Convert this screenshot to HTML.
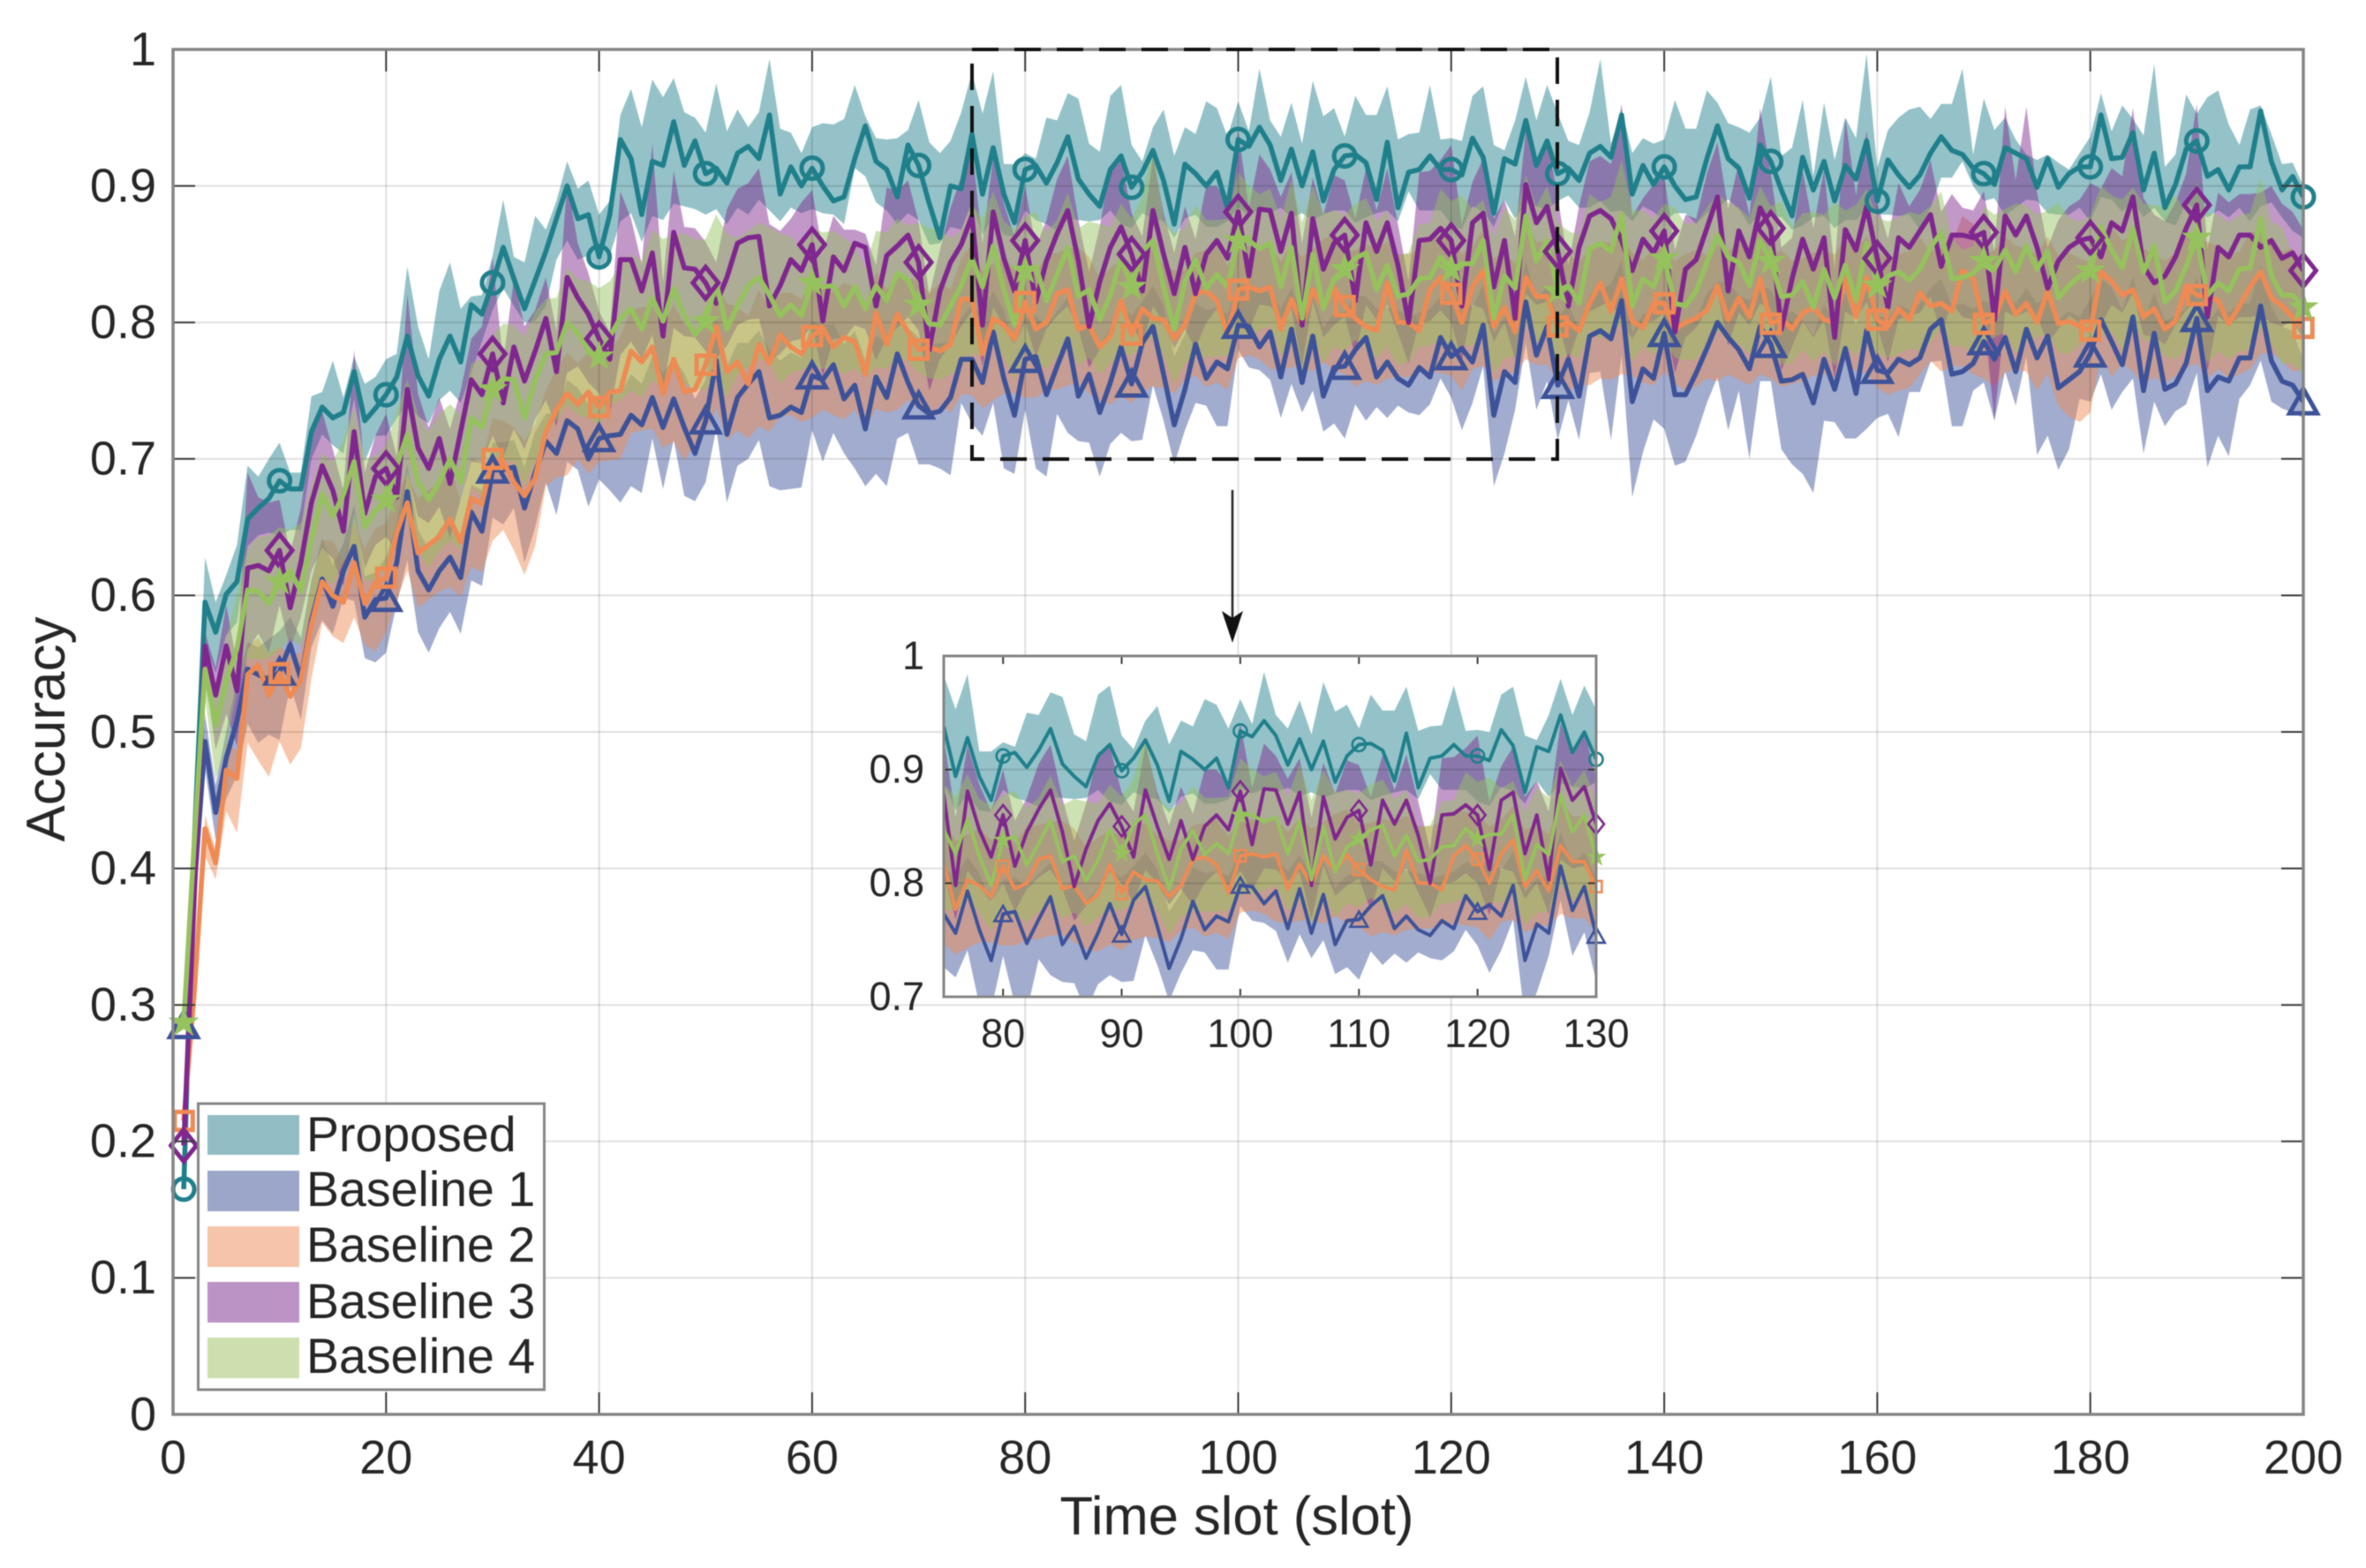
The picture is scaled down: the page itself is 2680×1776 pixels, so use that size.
<!DOCTYPE html>
<html lang="en">
<head>
<meta charset="utf-8">
<title>Accuracy over time slots</title>
<style>
html,body{margin:0;padding:0;background:#fff;}
svg{display:block;filter:blur(.6px);}
text{font-family:"Liberation Sans",Arial,sans-serif;fill:#262626;}
</style>
</head>
<body>
<svg id="chart" xmlns="http://www.w3.org/2000/svg" width="2680" height="1776" viewBox="0 0 2680 1776">
  <rect x="0" y="0" width="2680" height="1776" fill="#fff"/>
  <defs>
    <clipPath id="main-clip"><rect x="196" y="56" width="2413" height="1546"/></clipPath>
    <clipPath id="inset-clip"><rect x="1069" y="743" width="739" height="386"/></clipPath>
  </defs>
  <g id="main-panel"></g>
  <rect x="1101" y="56" width="663" height="464" fill="none" stroke="#111" stroke-width="4" stroke-dasharray="30 18"/>
  <g>
    <line x1="1396" y1="555" x2="1396" y2="705" stroke="#222" stroke-width="2.5"/>
    <polygon points="1396,728 1384,692 1396,700 1408,692" fill="#111"/>
  </g>
  <rect x="1069" y="743" width="739" height="386" fill="#fff"/>
  <g id="inset-panel"></g>
  <text x="1401" y="1738" font-size="61.5" text-anchor="middle">Time slot (slot)</text>
  <text transform="translate(73,826) rotate(-90)" font-size="62" text-anchor="middle">Accuracy</text>
  <g>
    <rect x="224.500" y="1250" width="392" height="324" fill="#fff" stroke="#858585" stroke-width="3"/>
    <rect x="235" y="1263" width="104" height="45" fill="#93bdc4"/>
    <rect x="235" y="1326" width="104" height="46" fill="#9ca6c9"/>
    <rect x="235" y="1389" width="104" height="46" fill="#f5c4ab"/>
    <rect x="235" y="1452" width="104" height="46" fill="#bb93c4"/>
    <rect x="235" y="1515" width="104" height="46" fill="#cddfaf"/>
    <text x="347" y="1304" font-size="55.5">Proposed</text>
    <text x="347" y="1366" font-size="55.5">Baseline 1</text>
    <text x="347" y="1429" font-size="55.5">Baseline 2</text>
    <text x="347" y="1493" font-size="55.5">Baseline 3</text>
    <text x="347" y="1555" font-size="55.5">Baseline 4</text>
  </g>
</svg>
<script>
// ---- chart data (slot = index + 1) ----
const proposedMean=[
.165,.42,.595,.573,.601,.61,.656,.664,.671,.684,
.678,.678,.72,.738,.73,.734,.764,.728,.737,.747,
.76,.79,.761,.746,.773,.79,.771,.813,.806,.829,
.855,.832,.81,.831,.852,.876,.9,.876,.879,.848,
.879,.934,.92,.879,.918,.915,.947,.915,.933,.909,
.913,.902,.924,.929,.92,.952,.894,.914,.9,.913,
.9,.889,.892,.92,.944,.918,.912,.892,.93,.915,
.887,.862,.9,.898,.938,.894,.928,.894,.873,.912,
.915,.902,.917,.936,.905,.894,.885,.912,.922,.899,
.91,.926,.904,.872,.916,.909,.9,.91,.884,.934,
.929,.943,.93,.904,.927,.9,.925,.889,.912,.922,
.923,.917,.89,.932,.884,.91,.912,.922,.912,.912,
.908,.935,.921,.88,.92,.916,.948,.915,.933,.909,
.913,.904,.924,.929,.921,.952,.894,.915,.901,.914,
.9,.89,.892,.92,.944,.92,.913,.891,.93,.918,
.897,.878,.921,.897,.918,.889,.915,.905,.933,.889,
.919,.908,.899,.908,.924,.936,.926,.923,.913,.909,
.901,.928,.924,.92,.899,.92,.899,.909,.914,.914,
.952,.92,.921,.939,.897,.924,.884,.901,.927,.933,
.907,.912,.897,.914,.914,.955,.918,.897,.907,.892];
const proposedUp=[
0,.01,.033,.022,.014,.027,.039,.023,.029,.028,
.012,.012,.026,.011,.042,.011,.011,.027,.023,.026,
.017,.051,.036,.027,.05,.054,.039,.006,.014,.02,
.035,.016,.034,.047,.016,.013,.018,.022,.025,.031,
.01,.018,.051,.064,.06,.05,.032,.039,.017,.03,
.062,.038,.032,.014,.034,.041,.048,.025,.024,.03,
.046,.056,.057,.054,.007,.017,.022,.043,.011,.048,
.045,.062,.033,.056,.045,.059,.056,.022,.043,.012,
.005,.048,.031,.032,.059,.037,.04,.054,.052,.031,
.008,.017,.052,.05,.027,.029,.062,.047,.052,.028,
.011,.043,.018,.032,.034,.031,.052,.062,.045,.014,
.043,.035,.062,.041,.05,.028,.027,.052,.022,.023,
.025,.031,.052,.05,.006,.032,.032,.033,.041,.044,
.02,.026,.03,.064,.01,.004,.03,.02,.03,.02,
.063,.052,.05,.05,.017,.026,.03,.048,.02,.062,
.025,.05,.042,.01,.043,.03,.035,.03,.064,.024,
.022,.042,.057,.05,.025,.024,.034,.063,.01,.055,
.04,.022,.01,.003,.02,.003,.018,.003,.01,.022,
.016,.02,.038,.01,.04,.065,.03,.022,.04,.02,
.058,.058,.048,.016,.042,.004,.02,.019,.01,.008];
const proposedDown=[
0,.01,.03,.03,.03,.03,.02,.02,.025,.04,
.03,.03,.02,.02,.02,.03,.02,.03,.02,.03,
.03,.05,.03,.02,.03,.04,.03,.05,.02,.02,
.03,.02,.01,.03,.04,.03,.04,.03,.03,.01,
.03,.06,.04,.02,.04,.04,.06,.03,.05,.03,
.03,.03,.04,.05,.03,.07,.02,.03,.02,.03,
.02,.01,.02,.007,.037,.03,.03,.02,.05,.04,
.03,.004,.03,.03,.05,.03,.05,.03,.01,.03,
.04,.03,.05,.06,.03,.02,.01,.03,.05,.03,
.03,.05,.03,.01,.04,.03,.03,.04,.01,.05,
.05,.06,.05,.02,.05,.02,.05,.01,.03,.04,
.05,.04,.01,.05,.01,.014,.03,.04,.03,.04,
.04,.05,.04,.01,.03,.04,.06,.03,.05,.02,
.02,.02,.04,.04,.04,.07,.02,.03,.02,.04,
.02,.01,.02,.04,.06,.03,.03,.02,.05,.04,
.02,.01,.05,.02,.04,.02,.04,.03,.05,.01,
.04,.03,.02,.04,.04,.03,.02,.005,.013,.02,
.01,.05,.04,.03,.01,.04,.02,.03,.03,.04,
.06,.03,.04,.05,.02,.04,.01,.03,.04,.05,
.03,.03,.02,.03,.04,.07,.03,.02,.04,.03];

const baseline1Mean=[
.285,.386,.493,.441,.481,.508,.546,.542,.538,.544,
.564,.539,.582,.612,.592,.618,.636,.584,.597,.598,
.624,.676,.618,.604,.618,.628,.613,.661,.647,.692,
.692,.694,.664,.69,.713,.704,.728,.722,.7,.715,
.717,.718,.732,.725,.745,.723,.744,.723,.704,.728,
.772,.718,.745,.755,.764,.73,.732,.738,.734,.761,
.758,.769,.744,.754,.722,.76,.745,.777,.756,.739,
.733,.735,.745,.773,.773,.756,.793,.759,.732,.773,
.775,.747,.768,.788,.746,.762,.734,.756,.782,.755,
.785,.797,.762,.725,.751,.784,.759,.771,.766,.798,
.797,.782,.793,.76,.795,.756,.79,.746,.767,.768,
.78,.789,.76,.771,.759,.754,.767,.76,.789,.775,
.781,.771,.798,.732,.764,.756,.815,.776,.797,.754,
.773,.746,.79,.794,.788,.816,.742,.766,.759,.792,
.747,.747,.763,.781,.8,.789,.78,.766,.797,.784,
.757,.758,.762,.741,.773,.751,.781,.748,.794,.765,
.763,.773,.769,.774,.795,.802,.762,.764,.77,.786,
.773,.789,.764,.795,.774,.79,.752,.758,.764,.777,
.802,.786,.769,.804,.75,.792,.751,.755,.77,.803,
.75,.76,.757,.774,.774,.812,.772,.757,.754,.742];
const baseline1Up=[
0,.01,.02,.02,.02,.03,.02,.02,.03,.03,
.02,.03,.03,.03,.03,.02,.03,.03,.02,.03,
.03,.02,.03,.03,.03,.03,.03,.02,.03,.02,
.02,.02,.03,.03,.02,.03,.03,.03,.04,.03,
.03,.03,.03,.03,.03,.04,.03,.04,.04,.03,
.03,.05,.04,.03,.03,.05,.04,.04,.04,.04,
.04,.03,.04,.04,.05,.03,.04,.03,.04,.05,
.05,.05,.04,.03,.04,.05,.03,.05,.05,.03,
.03,.05,.04,.03,.05,.04,.05,.04,.03,.05,
.03,.03,.05,.05,.04,.03,.05,.04,.04,.03,
.03,.04,.03,.05,.03,.05,.03,.05,.04,.04,
.04,.03,.05,.04,.05,.05,.04,.05,.03,.04,
.04,.04,.03,.06,.04,.05,.03,.04,.03,.05,
.04,.05,.03,.03,.04,.03,.05,.04,.05,.03,
.05,.05,.04,.04,.03,.04,.04,.05,.03,.04,
.05,.05,.04,.05,.04,.05,.04,.05,.03,.04,
.04,.04,.04,.04,.03,.03,.05,.05,.04,.03,
.04,.03,.05,.03,.04,.03,.05,.05,.04,.04,
.03,.04,.04,.03,.05,.03,.05,.05,.04,.03,
.05,.05,.05,.04,.04,.03,.04,.04,.04,.03];
const baseline1Down=[
0,.01,.02,.02,.03,.04,.04,.05,.04,.05,
.03,.03,.02,.03,.02,.02,.04,.03,.046,.04,
.03,.05,.045,.046,.042,.04,.041,.05,.04,.035,
.04,.03,.04,.04,.03,.045,.03,.03,.035,.03,
.04,.05,.052,.05,.03,.045,.03,.05,.035,.045,
.05,.05,.05,.055,.05,.05,.055,.06,.055,.04,
.06,.05,.04,.061,.042,.071,.065,.062,.037,.043,
.037,.042,.057,.032,.047,.039,.052,.066,.043,.037,
.082,.06,.035,.069,.033,.05,.047,.045,.063,.042,
.071,.043,.034,.029,.03,.043,.02,.047,.042,.018,
.03,.017,.035,.03,.04,.022,.04,.026,.041,.053,
.04,.061,.022,.041,.02,.02,.035,.02,.03,.03,
.06,.03,.03,.052,.06,.02,.03,.04,.04,.04,
.03,.032,.027,.03,.074,.04,.07,.061,.03,.07,
.052,.049,.046,.04,.04,.068,.03,.066,.04,.027,
.05,.062,.073,.066,.045,.024,.066,.033,.072,.035,
.03,.057,.02,.025,.024,.03,.038,.04,.02,.03,
.045,.025,.025,.02,.071,.073,.06,.051,.02,.035,
.04,.05,.02,.045,.046,.05,.027,.02,.03,.04,
.056,.043,.055,.03,.02,.04,.03,.02,.02,.012];

const baseline2Mean=[
.215,.31,.429,.404,.472,.466,.542,.549,.527,.543,
.526,.538,.579,.61,.6,.595,.624,.594,.609,.613,
.646,.668,.631,.637,.643,.656,.639,.671,.667,.7,
.698,.683,.673,.686,.72,.736,.748,.74,.749,.738,
.749,.75,.779,.771,.782,.748,.773,.749,.751,.769,
.797,.764,.771,.755,.784,.77,.791,.782,.777,.79,
.796,.782,.789,.786,.762,.807,.784,.806,.793,.78,
.782,.779,.784,.817,.817,.777,.803,.798,.788,.815,
.795,.8,.821,.824,.795,.798,.782,.79,.816,.791,
.81,.803,.802,.788,.798,.821,.823,.816,.791,.824,
.826,.823,.826,.795,.817,.798,.824,.811,.825,.812,
.803,.797,.794,.829,.8,.8,.794,.824,.833,.821,
.8,.826,.838,.797,.811,.793,.833,.819,.819,.797,
.8,.794,.814,.829,.808,.832,.801,.796,.814,.814,
.795,.8,.803,.809,.827,.802,.818,.804,.832,.799,
.803,.795,.807,.811,.802,.8,.832,.804,.833,.802,
.797,.81,.802,.822,.812,.814,.808,.838,.832,.799,
.803,.823,.806,.814,.8,.823,.799,.801,.797,.794,
.837,.83,.82,.824,.804,.81,.795,.801,.827,.82,
.819,.816,.799,.812,.826,.837,.818,.812,.804,.796];
const baseline2Up=[
0,.01,.01,.01,.02,.02,.02,.02,.03,.02,
.03,.02,.03,.03,.04,.03,.03,.04,.04,.04,
.03,.02,.04,.04,.04,.04,.03,.03,.03,.03,
.03,.04,.04,.04,.03,.03,.03,.03,.03,.04,
.03,.04,.03,.04,.03,.05,.04,.05,.04,.04,
.03,.05,.04,.05,.04,.04,.03,.04,.04,.04,
.03,.04,.04,.04,.05,.03,.04,.03,.04,.05,
.04,.05,.04,.03,.04,.06,.04,.05,.05,.03,
.04,.05,.03,.03,.06,.05,.05,.05,.03,.05,
.04,.05,.04,.05,.04,.03,.03,.04,.05,.03,
.03,.03,.03,.05,.04,.05,.03,.05,.04,.04,
.05,.06,.06,.03,.05,.05,.06,.04,.03,.04,
.05,.03,.03,.05,.04,.05,.04,.04,.04,.05,
.05,.05,.04,.03,.05,.03,.05,.05,.04,.04,
.05,.05,.05,.04,.03,.05,.04,.05,.04,.05,
.05,.05,.04,.04,.05,.05,.03,.05,.03,.05,
.05,.04,.05,.04,.04,.04,.05,.04,.04,.05,
.05,.04,.05,.04,.05,.04,.05,.05,.05,.05,
.03,.04,.04,.04,.05,.04,.05,.05,.04,.04,
.04,.04,.05,.04,.04,.03,.04,.04,.05,.04];
const baseline2Down=[
0,.01,.02,.012,.03,.04,.05,.07,.06,.05,
.05,.05,.04,.03,.03,.03,.04,.03,.05,.04,
.05,.05,.04,.04,.04,.05,.04,.05,.05,.06,
.05,.05,.058,.05,.04,.05,.06,.04,.06,.04,
.05,.05,.06,.05,.06,.04,.06,.05,.04,.05,
.06,.05,.05,.04,.06,.05,.06,.05,.05,.06,
.06,.05,.06,.05,.04,.07,.05,.07,.05,.04,
.05,.04,.05,.07,.07,.04,.06,.05,.04,.07,
.05,.05,.07,.07,.04,.05,.04,.05,.07,.05,
.06,.05,.05,.04,.04,.06,.07,.06,.04,.05,
.05,.05,.06,.03,.05,.03,.06,.04,.06,.05,
.05,.04,.04,.07,.04,.04,.03,.06,.07,.06,
.05,.06,.07,.04,.05,.03,.06,.05,.05,.04,
.05,.04,.06,.07,.05,.07,.04,.04,.06,.05,
.04,.05,.05,.05,.07,.04,.06,.05,.07,.04,
.05,.04,.05,.05,.04,.04,.06,.04,.07,.05,
.05,.06,.05,.06,.04,.05,.04,.07,.07,.04,
.05,.06,.04,.05,.05,.06,.06,.07,.07,.06,
.06,.07,.05,.06,.05,.05,.04,.04,.06,.05,
.06,.05,.04,.05,.06,.06,.04,.04,.04,.03];

const baseline3Mean=[
.197,.38,.563,.527,.563,.53,.62,.622,.618,.633,
.591,.624,.668,.695,.677,.647,.72,.66,.687,.693,
.672,.751,.708,.693,.715,.682,.72,.758,.747,.777,
.741,.782,.757,.779,.803,.764,.833,.818,.806,.788,
.773,.846,.846,.823,.851,.79,.866,.84,.839,.829,
.814,.833,.858,.862,.863,.812,.827,.846,.838,.857,
.801,.848,.838,.858,.855,.812,.849,.856,.864,.844,
.78,.823,.844,.857,.878,.798,.881,.847,.823,.86,
.815,.845,.865,.882,.845,.797,.83,.855,.87,.85,
.823,.882,.85,.821,.855,.821,.85,.86,.847,.881,
.834,.883,.882,.852,.88,.798,.876,.839,.858,.864,
.816,.873,.852,.873,.842,.8,.86,.861,.869,.86,
.812,.873,.88,.826,.86,.803,.901,.873,.885,.852,
.812,.855,.878,.882,.876,.86,.838,.861,.851,.867,
.793,.839,.846,.869,.892,.823,.867,.848,.884,.869,
.795,.832,.861,.839,.862,.789,.868,.853,.885,.847,
.811,.862,.855,.867,.879,.841,.864,.864,.862,.866,
.802,.878,.864,.878,.855,.825,.845,.855,.86,.862,
.848,.873,.867,.892,.841,.829,.834,.848,.869,.886,
.804,.855,.848,.864,.864,.855,.86,.847,.851,.838];
const baseline3Up=[
0,.01,.01,.02,.03,.02,.07,.05,.05,.037,
.04,.04,.05,.04,.03,.03,.06,.03,.03,.04,
.03,.07,.04,.03,.03,.04,.03,.03,.05,.07,
.03,.05,.04,.03,.03,.03,.07,.04,.03,.02,
.02,.05,.03,.02,.08,.04,.045,.03,.03,.03,
.03,.05,.04,.04,.05,.06,.04,.03,.05,.04,
.05,.03,.03,.01,.01,.03,.05,.04,.04,.03,
.04,.03,.04,.05,.05,.06,.04,.04,.04,.04,
.04,.03,.04,.04,.03,.04,.04,.06,.05,.03,
.04,.04,.03,.03,.03,.04,.05,.04,.04,.06,
.05,.04,.03,.04,.03,.06,.03,.04,.05,.04,
.06,.04,.03,.04,.03,.03,.05,.05,.05,.07,
.06,.03,.04,.05,.03,.06,.04,.04,.05,.04,
.03,.03,.04,.04,.04,.1,.04,.03,.05,.04,
.06,.04,.03,.04,.04,.06,.05,.03,.073,.04,
.06,.03,.05,.03,.05,.05,.082,.04,.055,.04,
.05,.04,.03,.03,.04,.04,.03,.02,.02,.03,
.05,.08,.04,.08,.04,.03,.03,.03,.03,.04,
.05,.04,.04,.065,.05,.05,.04,.04,.04,.074,
.05,.04,.04,.03,.03,.04,.04,.04,.03,.03];
const baseline3Down=[
0,.01,.02,.04,.05,.04,.06,.05,.06,.04,
.03,.04,.05,.06,.05,.04,.06,.04,.05,.05,
.04,.06,.05,.04,.05,.04,.05,.06,.05,.06,
.04,.06,.05,.05,.06,.04,.07,.05,.05,.04,
.04,.07,.06,.05,.06,.04,.07,.05,.05,.05,
.04,.05,.06,.06,.06,.04,.05,.06,.05,.06,
.04,.06,.05,.06,.06,.04,.06,.06,.06,.05,
.03,.05,.06,.06,.07,.03,.07,.05,.04,.06,
.04,.05,.06,.07,.05,.03,.05,.06,.06,.05,
.04,.07,.05,.04,.06,.04,.05,.05,.05,.07,
.04,.07,.07,.05,.07,.03,.06,.05,.06,.06,
.04,.06,.05,.06,.05,.03,.06,.06,.06,.06,
.04,.06,.07,.04,.06,.03,.08,.06,.07,.05,
.04,.06,.07,.07,.06,.06,.05,.06,.05,.06,
.03,.05,.05,.06,.07,.04,.06,.05,.07,.06,
.03,.05,.06,.05,.06,.03,.06,.05,.07,.05,
.04,.06,.05,.06,.06,.05,.05,.06,.06,.06,
.074,.07,.06,.07,.05,.04,.05,.05,.06,.06,
.05,.06,.06,.07,.05,.04,.05,.05,.06,.07,
.04,.05,.05,.06,.06,.05,.06,.05,.05,.05];

const baseline4Mean=[
.287,.42,.546,.505,.538,.561,.604,.603,.594,.61,
.618,.603,.641,.674,.658,.674,.698,.65,.662,.67,
.695,.718,.683,.67,.683,.7,.683,.73,.723,.751,
.759,.758,.73,.758,.777,.778,.8,.792,.78,.775,
.79,.803,.81,.795,.818,.801,.825,.805,.791,.801,
.829,.795,.812,.827,.833,.82,.805,.813,.805,.829,
.826,.827,.812,.826,.81,.827,.816,.836,.831,.813,
.799,.798,.812,.827,.847,.826,.856,.824,.798,.838,
.841,.816,.835,.855,.819,.824,.802,.82,.847,.826,
.852,.86,.826,.795,.83,.846,.825,.835,.826,.86,
.86,.854,.858,.826,.855,.803,.85,.81,.832,.839,
.847,.851,.824,.842,.819,.821,.832,.833,.848,.839,
.843,.843,.86,.803,.834,.825,.878,.845,.86,.823,
.827,.814,.854,.858,.852,.879,.812,.832,.826,.847,
.814,.812,.823,.844,.864,.848,.844,.827,.86,.845,
.819,.82,.83,.811,.839,.818,.842,.816,.858,.827,
.834,.837,.831,.839,.855,.866,.832,.833,.836,.845,
.839,.853,.837,.856,.839,.852,.818,.827,.834,.838,
.87,.853,.84,.869,.837,.856,.815,.823,.841,.862,
.82,.829,.823,.839,.84,.876,.834,.82,.82,.811];
const baseline4Up=[
0,.01,.01,.03,.03,.04,.03,.04,.05,.04,
.03,.05,.04,.03,.04,.04,.04,.05,.04,.04,
.04,.04,.05,.05,.05,.04,.05,.04,.05,.04,
.04,.04,.06,.05,.04,.04,.04,.04,.05,.05,
.04,.04,.04,.05,.05,.06,.04,.06,.07,.06,
.05,.07,.05,.04,.04,.05,.06,.05,.05,.04,
.04,.04,.05,.03,.03,.04,.05,.04,.04,.06,
.07,.07,.05,.04,.04,.05,.04,.05,.07,.04,
.04,.05,.04,.04,.05,.05,.07,.05,.04,.05,
.04,.07,.05,.07,.04,.04,.05,.04,.05,.05,
.04,.04,.04,.05,.05,.07,.05,.07,.05,.04,
.04,.04,.05,.04,.03,.03,.04,.04,.05,.05,
.05,.04,.03,.06,.05,.05,.03,.04,.04,.05,
.04,.05,.04,.03,.04,.04,.07,.05,.05,.04,
.07,.06,.05,.04,.03,.04,.04,.05,.04,.04,
.07,.05,.05,.07,.04,.07,.04,.07,.04,.05,
.04,.04,.05,.04,.03,.03,.03,.02,.02,.04,
.04,.03,.05,.03,.04,.03,.07,.05,.04,.04,
.03,.04,.05,.03,.05,.03,.07,.07,.04,.04,
.06,.05,.05,.04,.04,.03,.04,.05,.03,.03];
const baseline4Down=[
0,.01,.02,.04,.05,.03,.05,.05,.04,.05,
.05,.04,.05,.06,.05,.05,.06,.04,.05,.05,
.06,.06,.05,.05,.05,.06,.05,.05,.05,.06,
.06,.06,.05,.06,.06,.05,.06,.06,.05,.05,
.05,.06,.06,.05,.06,.05,.06,.05,.04,.05,
.07,.05,.05,.06,.06,.05,.05,.05,.04,.06,
.06,.06,.05,.06,.05,.06,.05,.06,.06,.05,
.04,.04,.05,.06,.07,.05,.07,.05,.04,.06,
.07,.05,.06,.07,.05,.05,.04,.05,.07,.05,
.07,.07,.05,.04,.06,.07,.05,.06,.05,.07,
.07,.06,.06,.05,.07,.04,.06,.04,.05,.06,
.06,.07,.05,.06,.05,.05,.05,.05,.06,.06,
.06,.06,.07,.04,.06,.05,.08,.06,.07,.05,
.05,.04,.06,.07,.06,.08,.04,.05,.05,.06,
.04,.04,.05,.06,.07,.06,.06,.05,.07,.06,
.05,.05,.05,.04,.06,.05,.06,.04,.07,.05,
.06,.06,.05,.06,.07,.07,.05,.05,.06,.06,
.05,.06,.06,.07,.05,.06,.04,.05,.05,.05,
.08,.06,.06,.07,.05,.07,.04,.05,.06,.07,
.05,.05,.05,.06,.06,.08,.05,.05,.05,.05];

const markerSlots=[1,10,20,30,40,50,60,70,80,90,100,110,120,130,140,150,160,170,180,190,200];
const mainXTicks=[0,20,40,60,80,100,120,140,160,180,200];
const mainYTicks=[0,.1,.2,.3,.4,.5,.6,.7,.8,.9,1];
const mainYLabels=['0','0.1','0.2','0.3','0.4','0.5','0.6','0.7','0.8','0.9','1'];
const insetXTicks=[80,90,100,110,120,130];
const insetYTicks=[.7,.8,.9,1];
const insetYLabels=['0.7','0.8','0.9','1'];

// ---- series definitions ----
const seriesList=[
 {key:'proposed',color:'#1f7f8b',mean:proposedMean,up:proposedUp,down:proposedDown,marker:'circle'},
 {key:'baseline-1',color:'#3d5299',mean:baseline1Mean,up:baseline1Up,down:baseline1Down,marker:'triangle'},
 {key:'baseline-2',color:'#ee8a53',mean:baseline2Mean,up:baseline2Up,down:baseline2Down,marker:'square'},
 {key:'baseline-3',color:'#7f278e',mean:baseline3Mean,up:baseline3Up,down:baseline3Down,marker:'diamond'},
 {key:'baseline-4',color:'#96c25e',mean:baseline4Mean,up:baseline4Up,down:baseline4Down,marker:'star'}
];

const NS='http://www.w3.org/2000/svg';
function scale(d0,d1,r0,r1){return function(v){return r0+(v-d0)*(r1-r0)/(d1-d0);};}
function make(parent,tag,attrs){
  const el=document.createElementNS(NS,tag);
  for(const k in attrs){el.setAttribute(k,attrs[k]);}
  parent.appendChild(el);
  return el;
}
function markerShape(parent,kind,cx,cy,color,s,sw){
  let el;
  if(kind==='circle'){
    el=make(parent,'circle',{cx:cx,cy:cy,r:s,fill:'none',stroke:color,'stroke-width':sw});
  }else if(kind==='square'){
    el=make(parent,'rect',{x:cx-s*.85,y:cy-s*.85,width:s*1.7,height:s*1.7,fill:'none',stroke:color,'stroke-width':sw});
  }else if(kind==='diamond'){
    const d=s*1.2,h=s*1.5;
    el=make(parent,'polygon',{points:[cx-d,cy,cx,cy-h,cx+d,cy,cx,cy+h].join(' '),fill:'none',stroke:color,'stroke-width':sw});
  }else if(kind==='triangle'){
    const w=s*1.3,h=s*1.1;
    el=make(parent,'polygon',{points:[cx-w,cy+h,cx,cy-h*1.1,cx+w,cy+h].join(' '),fill:'none',stroke:color,'stroke-width':sw});
  }else{
    const pts=[];
    for(let k=0;k<10;k++){
      const r=k%2===0?s*1.4:s*.55;
      const a=-Math.PI/2+k*Math.PI/5;
      pts.push(cx+r*Math.cos(a),cy+r*Math.sin(a));
    }
    el=make(parent,'polygon',{points:pts.join(' '),fill:color,stroke:color,'stroke-width':1});
  }
  return el;
}

function drawPanel(cfg){
  const root=document.getElementById(cfg.rootId);
  const x=scale(cfg.xDomain[0],cfg.xDomain[1],cfg.left,cfg.right);
  const y=scale(cfg.yDomain[0],cfg.yDomain[1],cfg.bottom,cfg.top);
  const dataGroup=make(root,'g',{'clip-path':'url(#'+cfg.clip+')'});
  
  
  // bands
  seriesList.forEach(function(s){
    let top='',bot='';
    for(let i=0;i<s.mean.length;i++){
      const slot=i+1;
      top+=(i?'L':'M')+x(slot).toFixed(1)+' '+y(s.mean[i]+s.up[i]).toFixed(1);
    }
    for(let i=s.mean.length-1;i>=0;i--){
      const slot=i+1;
      bot+='L'+x(slot).toFixed(1)+' '+y(s.mean[i]-s.down[i]).toFixed(1);
    }
    const band=make(dataGroup,'path',{d:top+bot+'Z',fill:s.color,'fill-opacity':.48,stroke:'none'});
    
    
  });
  // grid (drawn over the bands, as in the reference)
  const gridGroup=make(dataGroup,'g',{stroke:'#000','stroke-opacity':.12,'stroke-width':cfg.gridWidth});
  
  
  cfg.yTicks.forEach(function(t){
    const l=make(gridGroup,'line',{x1:cfg.left,x2:cfg.right,y1:y(t),y2:y(t)});
    
    
  });
  if(cfg.verticalGrid){
    cfg.xTicks.forEach(function(t){
      const l=make(gridGroup,'line',{y1:cfg.top,y2:cfg.bottom,x1:x(t),x2:x(t)});
      
      
    });
  }
  // lines
  seriesList.forEach(function(s){
    let d='';
    for(let i=0;i<s.mean.length;i++){
      const slot=i+1;
      d+=(i?'L':'M')+x(slot).toFixed(1)+' '+y(s.mean[i]).toFixed(1);
    }
    const line=make(dataGroup,'path',{d:d,fill:'none',stroke:s.color,'stroke-width':cfg.lineWidth,'stroke-linejoin':'round'});
    
    
  });
  // markers (not clipped)
  seriesList.forEach(function(s){
    markerSlots.forEach(function(slot){
      if(slot<cfg.xDomain[0]||slot>cfg.xDomain[1]){return;}
      const m=markerShape(root,s.marker,x(slot),y(s.mean[slot-1]),s.color,cfg.markerSize,cfg.markerStroke);
      
      
    });
  });
  // ticks
  const tickGroup=make(root,'g',{stroke:'#3a3a3a','stroke-width':2});
  
  
  cfg.xTicks.forEach(function(t){
    const px=x(t);
    const a=make(tickGroup,'line',{x1:px,x2:px,y1:cfg.bottom,y2:cfg.bottom-cfg.tickLen});
    
    
    const b=make(tickGroup,'line',{x1:px,x2:px,y1:cfg.top,y2:cfg.top+cfg.tickLen});
    
    
    const label=make(root,'text',{x:px,y:cfg.xLabelY,'font-size':cfg.fontSize,'text-anchor':'middle'});
    label.textContent=String(t);
    
    
  });
  cfg.yTicks.forEach(function(t,i){
    const py=y(t);
    const a=make(tickGroup,'line',{x1:cfg.left,x2:cfg.left+cfg.tickLen,y1:py,y2:py});
    
    
    const b=make(tickGroup,'line',{x1:cfg.right,x2:cfg.right-cfg.tickLen,y1:py,y2:py});
    
    
    const label=make(root,'text',{x:cfg.yLabelX,y:py+cfg.fontSize*.33,'font-size':cfg.fontSize,'text-anchor':'end'});
    label.textContent=cfg.yLabels[i];
    
    
  });
  const frame=make(root,'rect',{x:cfg.left,y:cfg.top,width:cfg.right-cfg.left,height:cfg.bottom-cfg.top,fill:'none',stroke:'#858585','stroke-width':cfg.frameWidth});
  
  
}

drawPanel({rootId:'main-panel',clip:'main-clip',left:196,right:2609,top:56,bottom:1602,
  xDomain:[0,200],yDomain:[0,1],xTicks:mainXTicks,yTicks:mainYTicks,yLabels:mainYLabels,
  verticalGrid:true,gridWidth:2,lineWidth:5.6,markerSize:12,markerStroke:5,tickLen:25,
  fontSize:54,xLabelY:1669,yLabelX:177,frameWidth:3.5});
drawPanel({rootId:'inset-panel',clip:'inset-clip',left:1069,right:1808,top:743,bottom:1129,
  xDomain:[75,130],yDomain:[.7,1],xTicks:insetXTicks,yTicks:insetYTicks,yLabels:insetYLabels,
  verticalGrid:false,gridWidth:2,lineWidth:4,markerSize:7.5,markerStroke:2.6,tickLen:9,
  fontSize:45,xLabelY:1186,yLabelX:1047,frameWidth:3});
</script>
</body>
</html>
